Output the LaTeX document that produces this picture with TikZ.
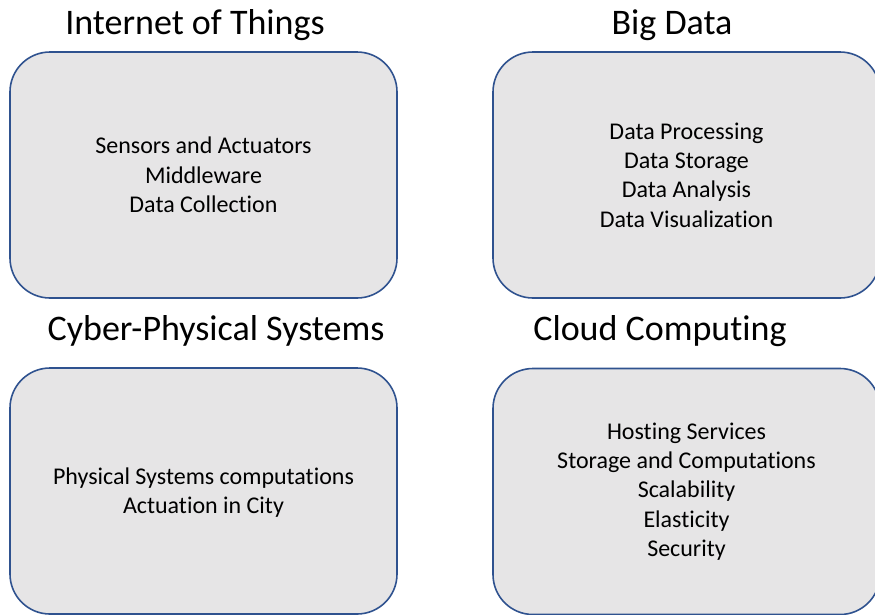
\documentclass[tikz,border=0pt]{standalone}
\usepackage{fontspec}
\setmainfont{Carlito}[Ligatures=NoCommon]
\usetikzlibrary{positioning}

\definecolor{boxfill}{RGB}{230,229,230}
\definecolor{boxline}{RGB}{47,82,143}

\tikzset{
  area/.style={draw=boxline,fill=boxfill,line width=1.6pt,rounded corners=40pt,
    minimum width=387pt,minimum height=246pt,align=center,
    font=\fontsize{24}{29.3}\selectfont,inner sep=0pt},
  heading/.style={anchor=base,font=\fontsize{36}{40}\selectfont,inner sep=0pt}
}

\begin{document}
\begin{tikzpicture}[x=1pt,y=-1pt]
  % Boundary
  \useasboundingbox (0,0) rectangle (875,614);
  % Areas
  \node[area] (iot) at (203.5,175) {Sensors and Actuators\\Middleware\\Data Collection};
  \node[area] (bigdata) at (686.5,175) {Data Processing\\Data Storage\\Data Analysis\\Data Visualization};
  \node[area,text depth=0pt] (cps) at (203.5,491) {Physical Systems computations\\Actuation in City};
  \node[area] (cloud) at (686.5,491.5) {Hosting Services\\Storage and Computations\\Scalability\\Elasticity\\Security};
  % Headings
  \node[heading] (iottitle) at (195,34) {Internet of Things};
  \node[heading] (bigdatatitle) at (672,34) {Big Data};
  \node[heading] (cpstitle) at (216,340) {Cyber-Physical Systems};
  \node[heading] (cloudtitle) at (660,340) {Cloud Computing};
\end{tikzpicture}
\end{document}
